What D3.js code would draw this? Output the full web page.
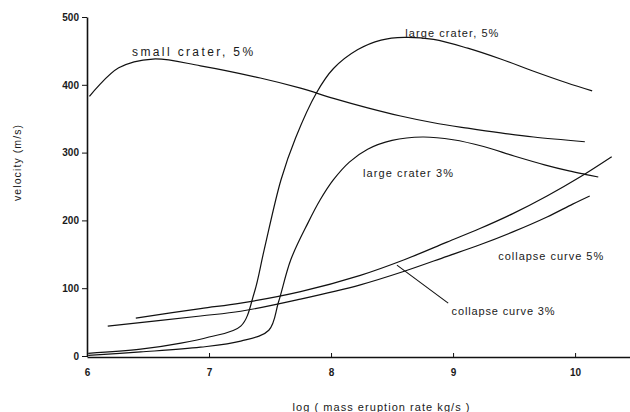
<!DOCTYPE html>
<html>
<head>
<meta charset="utf-8">
<script src="https://cdn.jsdelivr.net/npm/d3@7"></script>
<style>
  html, body { margin: 0; padding: 0; background: #fff; }
  svg { display: block; }
  text { font-family: "Liberation Sans", Arial, Helvetica, sans-serif; fill: #1a1a1a; }
</style>
</head>
<body>
<svg id="chart" width="630" height="412"></svg>
<script>
// Eruption velocity vs. log mass eruption rate: crater and collapse curves.
// Each series is a list of [log mass eruption rate, velocity m/s] points.
const smallCrater5 = [
  [6.02, 383], [6.26, 425], [6.54, 438], [6.93, 428], [7.42, 410], [7.75, 395],
  [8.02, 380], [8.30, 366], [8.57, 354], [8.84, 344], [9.12, 336], [9.39, 329],
  [9.66, 323], [10.08, 316]
];
const largeCrater5 = [
  [6.01, 4], [6.44, 10], [6.77, 19], [7.0, 28], [7.26, 44], [7.37, 93],
  [7.45, 155], [7.59, 260], [7.71, 322], [7.88, 388], [8.02, 424],
  [8.22, 452], [8.41, 466], [8.60, 470], [8.84, 467], [9.12, 454], [9.39, 438],
  [9.66, 420], [9.93, 403], [10.14, 391]
];
const largeCrater3 = [
  [6.01, 1], [6.44, 6], [6.93, 13], [7.26, 22], [7.49, 38], [7.57, 80],
  [7.67, 142], [7.81, 196], [7.91, 230], [8.02, 260], [8.15, 286], [8.30, 305],
  [8.50, 318], [8.75, 323], [9.0, 319], [9.25, 309], [9.50, 295], [9.75, 282],
  [9.95, 273], [10.08, 268], [10.19, 264]
];
const collapse5 = [
  [6.40, 56], [6.93, 70], [7.26, 78], [7.75, 95], [8.24, 119], [8.60, 142],
  [8.95, 168], [9.22, 188], [9.49, 210], [9.77, 236], [10.04, 264], [10.30, 294]
];
const collapse3 = [
  [6.17, 44], [6.93, 59], [7.26, 66], [7.75, 84], [8.24, 105], [8.60, 125],
  [8.95, 147], [9.22, 164], [9.49, 183], [9.77, 205], [9.98, 224], [10.12, 236]
];

const xTicks = [6, 7, 8, 9, 10];
const yTicks = [0, 100, 200, 300, 400, 500];

// Curve labels: [text, x, y (data units), pixel width, font size]
const curveLabels = [
  ["small crater, 5%", 6.865, 442, 121, 12],
  ["large crater, 5%", 8.99, 471, 93, 11],
  ["large crater 3%", 8.63, 264, 90, 11],
  ["collapse curve 5%", 9.80, 142, 105, 11],
  ["collapse curve 3%", 9.41, 61, 103, 11]
];
// Leader from the 3% collapse label to its curve
const leader = [[8.54, 134], [8.96, 78]];

const svg = d3.select("#chart");

const x = d3.scaleLinear().domain([6, 10.45]).range([87, 630]);
const y = d3.scaleLinear().domain([0, 500]).range([356, 17]);

// axes
const yAxis = d3.axisLeft(y).tickValues(yTicks).tickSize(5).tickSizeOuter(0).tickPadding(3);
const gy = svg.append("g").attr("transform", `translate(${x(6)},0)`).call(yAxis);
gy.select(".domain").attr("stroke", "#111").attr("stroke-width", 1.6);
gy.selectAll(".tick line").attr("stroke", "#111");
gy.selectAll(".tick text").style("font-size", "10px").style("font-weight", "bold").attr("fill", "#1a1a1a");

const xAxis = d3.axisBottom(x).tickValues(xTicks).tickFormat(d3.format("d"))
  .tickSize(-4).tickSizeOuter(0).tickPadding(12);
const gx = svg.append("g").attr("transform", `translate(0,${y(0) + 1})`).call(xAxis);
gx.select(".domain").attr("stroke", "#111").attr("stroke-width", 1.4);
gx.selectAll(".tick line").attr("stroke", "#111");
gx.selectAll(".tick text").style("font-size", "10px").style("font-weight", "bold").attr("fill", "#1a1a1a");

// axis titles
svg.append("text")
  .attr("x", 381).attr("y", 411)
  .attr("text-anchor", "middle")
  .attr("textLength", 177).attr("lengthAdjust", "spacing")
  .style("font-size", "11px")
  .text("log ( mass eruption rate kg/s )");

svg.append("text")
  .attr("transform", "translate(21,163) rotate(-90)")
  .attr("text-anchor", "middle")
  .attr("textLength", 76).attr("lengthAdjust", "spacing")
  .style("font-size", "10.5px")
  .text("velocity (m/s)");

// curves
const line = d3.line()
  .x(d => x(d[0]))
  .y(d => y(d[1]))
  .curve(d3.curveCatmullRom.alpha(0.5));

[smallCrater5, largeCrater5, largeCrater3, collapse5, collapse3].forEach(s => {
  svg.append("path")
    .datum(s)
    .attr("d", line)
    .attr("fill", "none")
    .attr("stroke", "#111")
    .attr("stroke-width", 1.2);
});

svg.append("path")
  .datum(leader)
  .attr("d", d3.line().x(d => x(d[0])).y(d => y(d[1])))
  .attr("fill", "none")
  .attr("stroke", "#111")
  .attr("stroke-width", 1.1);

// curve labels
svg.selectAll(".curve-label")
  .data(curveLabels)
  .join("text")
  .attr("class", "curve-label")
  .attr("x", d => x(d[1]))
  .attr("y", d => y(d[2]))
  .attr("text-anchor", "middle")
  .attr("textLength", d => d[3])
  .attr("lengthAdjust", "spacing")
  .style("font-size", d => d[4] + "px")
  .text(d => d[0]);
</script>
</body>
</html>
